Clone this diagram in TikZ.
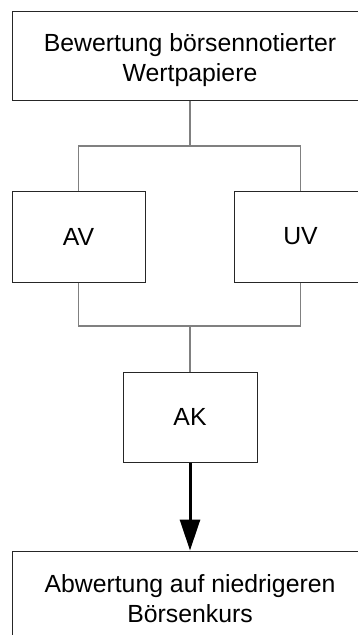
\documentclass[tikz,border=0pt]{standalone}
\usepackage{fontspec}
\setmainfont{Liberation Sans}
\usetikzlibrary{arrows.meta}
\begin{document}
\begin{tikzpicture}[x=1pt,y=-1pt,
  box/.style={draw=black!85,line width=1pt,fill=white,inner sep=0pt,align=center,
    font=\fontsize{24.8}{30}\selectfont},
  link/.style={draw=black!50,line width=1.2pt},
  flow/.style={draw=black,line width=3pt,-{Triangle[length=31pt,width=20pt]}}]
\useasboundingbox (0,0) rectangle (358,635);
\clip (0,0) rectangle (358,635);
\fill[white] (0,0) rectangle (358,635);
\node[box,minimum width=356pt,minimum height=89pt] (top) at (190,55.5)
  {\rule{0pt}{27pt}Bewertung börsennotierter\\Wertpapiere};
\node[box,minimum width=133pt,minimum height=91pt] (av) at (78.5,236.5) {AV};
\node[box,minimum width=133pt,minimum height=91pt] (uv) at (300.5,236.5) {UV};
\node[box,minimum width=134pt,minimum height=90pt] (ak) at (190,417) {AK};
\node[box,minimum width=356pt,minimum height=89pt] (res) at (190,595.5)
  {\rule{0pt}{24pt}Abwertung auf niedrigeren\\Börsenkurs};
\coordinate (split) at (190,146);
\coordinate (merge) at (190,326);
\draw[link] (top.south) -- (split);
\draw[link] (split) -| (av.north);
\draw[link] (split) -| (uv.north);
\draw[link] (av.south) |- (merge);
\draw[link] (uv.south) |- (merge);
\draw[link] (merge) -- (ak.north);
\draw[flow] (ak.south) -- (res.north);
\end{tikzpicture}
\end{document}
